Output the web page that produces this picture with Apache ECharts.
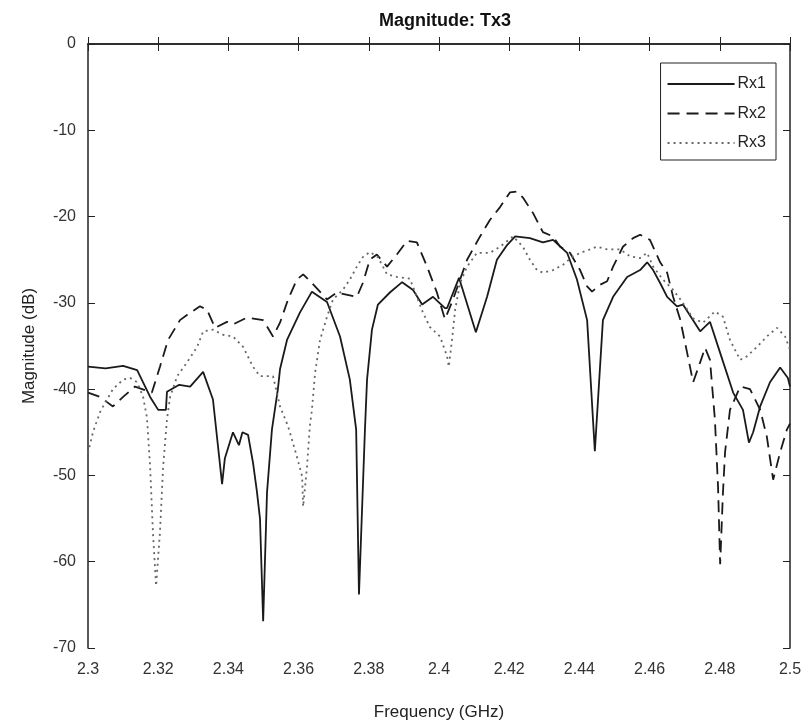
<!DOCTYPE html>
<html>
<head>
<meta charset="utf-8">
<script src="https://cdn.jsdelivr.net/npm/echarts@6/dist/echarts.min.js"></script>
<style>
  html, body { margin: 0; padding: 0; background: #fff; }
  #chart { width: 811px; height: 727px; }
</style>
</head>
<body>
<div id="chart"></div>
<script>
// frequency (GHz) and magnitude (dB)
var rx1Freq = [2.300, 2.305, 2.310, 2.314, 2.3177, 2.320, 2.3222, 2.3225, 2.326, 2.3291, 2.3328, 2.3356, 2.3382, 2.3390, 2.3413, 2.3430, 2.3440, 2.3456, 2.3470, 2.3481, 2.3490, 2.3499, 2.3510, 2.3524, 2.3541, 2.3547, 2.3567, 2.3604, 2.3638, 2.3681, 2.3718, 2.3746, 2.3764, 2.3772, 2.3789, 2.3795, 2.3809, 2.3826, 2.3860, 2.3895, 2.3926, 2.3952, 2.3983, 2.4017, 2.4023, 2.4057, 2.4105, 2.4137, 2.4165, 2.4194, 2.4217, 2.4259, 2.4296, 2.4325, 2.4365, 2.4393, 2.4422, 2.4444, 2.4467, 2.4496, 2.4536, 2.4573, 2.4593, 2.4610, 2.4630, 2.4650, 2.4678, 2.4695, 2.4744, 2.4772, 2.4801, 2.4838, 2.4866, 2.4883, 2.4895, 2.4915, 2.4943, 2.4972, 2.4994, 2.5000];
var rx1Mag = [-37.4, -37.6, -37.3, -37.8, -40.9, -42.4, -42.4, -40.3, -39.5, -39.7, -38.0, -41.2, -51.0, -48.0, -45.0, -46.5, -45.0, -45.3, -48.5, -51.8, -55.0, -66.9, -52.0, -44.7, -40.0, -37.7, -34.3, -31.1, -28.7, -29.9, -33.9, -38.9, -44.7, -63.8, -44.7, -38.9, -33.1, -30.2, -28.8, -27.6, -28.5, -30.2, -29.3, -30.6, -30.6, -27.1, -33.4, -29.3, -25.0, -23.3, -22.3, -22.5, -23.0, -22.7, -24.2, -27.3, -32.0, -47.2, -32.0, -29.3, -27.0, -26.2, -25.3, -26.2, -27.7, -29.3, -30.4, -30.2, -33.3, -32.2, -35.8, -40.4, -42.4, -46.2, -45.0, -42.0, -39.2, -37.5, -38.7, -39.7];

var rx2Freq = [2.300, 2.3034, 2.3071, 2.3100, 2.3134, 2.3182, 2.3205, 2.3228, 2.3262, 2.3282, 2.3319, 2.3339, 2.3362, 2.3396, 2.3413, 2.3453, 2.3499, 2.3527, 2.3547, 2.3570, 2.3595, 2.3613, 2.3638, 2.3681, 2.3709, 2.3766, 2.3783, 2.3803, 2.3823, 2.3852, 2.3880, 2.3909, 2.3937, 2.3966, 2.3994, 2.4017, 2.4040, 2.4060, 2.4080, 2.4117, 2.4145, 2.4174, 2.4202, 2.4222, 2.4239, 2.4268, 2.4296, 2.4325, 2.4345, 2.4373, 2.4402, 2.4422, 2.4436, 2.4459, 2.4479, 2.4496, 2.4524, 2.4553, 2.4573, 2.4601, 2.4630, 2.4650, 2.4667, 2.4687, 2.4707, 2.4724, 2.4744, 2.4758, 2.4772, 2.4786, 2.4795, 2.4801, 2.4809, 2.4815, 2.4829, 2.4858, 2.4886, 2.4915, 2.4934, 2.4952, 2.4972, 2.4991, 2.5000];
var rx2Mag = [-40.4, -40.9, -42.0, -40.9, -39.7, -40.4, -37.4, -34.3, -32.0, -31.4, -30.4, -30.8, -32.9, -32.2, -32.5, -31.7, -32.0, -33.9, -32.3, -29.6, -27.3, -26.7, -27.7, -29.6, -28.8, -29.3, -27.7, -25.0, -24.4, -25.8, -24.4, -22.8, -23.0, -25.8, -28.8, -31.9, -29.6, -27.3, -25.0, -22.3, -20.4, -18.9, -17.2, -17.1, -17.8, -19.6, -21.8, -22.3, -23.5, -24.2, -26.2, -28.1, -28.7, -27.9, -27.5, -25.8, -23.5, -22.5, -22.1, -22.7, -25.3, -26.5, -29.3, -31.9, -35.8, -39.2, -36.9, -35.2, -36.6, -43.5, -51.3, -60.3, -52.0, -47.3, -42.4, -39.7, -40.0, -42.4, -45.5, -50.5, -47.3, -44.7, -44.0];

var rx3Freq = [2.300, 2.3014, 2.3034, 2.3043, 2.3071, 2.3100, 2.3120, 2.3140, 2.3157, 2.3168, 2.3177, 2.3185, 2.3194, 2.3205, 2.3214, 2.3225, 2.3234, 2.3254, 2.3282, 2.3311, 2.3328, 2.3356, 2.3385, 2.3413, 2.3442, 2.3470, 2.3490, 2.3527, 2.3541, 2.3547, 2.3570, 2.3595, 2.3610, 2.3613, 2.3624, 2.3632, 2.3638, 2.3647, 2.3661, 2.3681, 2.3698, 2.3726, 2.3746, 2.3766, 2.3783, 2.3803, 2.3826, 2.3852, 2.3880, 2.3917, 2.3937, 2.3954, 2.3974, 2.4003, 2.4023, 2.4028, 2.4037, 2.4046, 2.4060, 2.4080, 2.4108, 2.4145, 2.4174, 2.4211, 2.4239, 2.4259, 2.4279, 2.4296, 2.4325, 2.4353, 2.4382, 2.4410, 2.4450, 2.4479, 2.4516, 2.4544, 2.4573, 2.4593, 2.4610, 2.4638, 2.4667, 2.4695, 2.4724, 2.4752, 2.4786, 2.4809, 2.4829, 2.4858, 2.4877, 2.4906, 2.4934, 2.4963, 2.4986, 2.5000];
var rx3Mag = [-47.4, -45.0, -42.7, -42.0, -40.0, -38.9, -38.7, -39.2, -40.9, -43.3, -49.0, -56.6, -62.8, -56.6, -49.0, -43.5, -40.9, -38.5, -36.9, -35.1, -33.3, -33.1, -33.7, -33.9, -35.1, -37.4, -38.5, -38.5, -40.9, -42.0, -44.3, -47.8, -50.1, -53.6, -49.0, -44.3, -42.4, -38.1, -34.3, -31.6, -29.6, -28.5, -27.3, -25.8, -24.7, -24.1, -24.7, -26.7, -27.0, -27.2, -29.3, -31.1, -32.8, -33.9, -36.2, -37.4, -34.3, -30.8, -27.7, -25.8, -24.2, -24.2, -23.5, -22.3, -23.5, -25.0, -26.2, -26.5, -26.2, -25.6, -24.6, -24.1, -23.5, -23.8, -23.8, -24.6, -24.8, -24.2, -25.8, -27.3, -28.5, -30.0, -31.8, -32.3, -31.0, -31.6, -34.3, -36.6, -36.2, -35.1, -33.9, -32.9, -33.9, -35.4];

var seriesNames = ["Rx1", "Rx2", "Rx3"];

function pairs(xs, ys) {
  var out = [];
  for (var i = 0; i < xs.length; i++) {
    out.push([xs[i], ys[i]]);
  }
  return out;
}

var font = "Liberation Sans";
var chart = echarts.init(document.getElementById("chart"));

var option = {
  animation: false,
  backgroundColor: "#fff",
  textStyle: { fontFamily: font },
  title: {
    text: "Magnitude: Tx3",
    left: 440,
    textAlign: "center",
    top: 7,
    textStyle: { fontFamily: font, fontSize: 18, fontWeight: "bold", color: "#111" }
  },
  legend: {
    data: seriesNames,
    orient: "vertical",
    right: 35,
    top: 63,
    itemWidth: 67,
    itemHeight: 14,
    itemGap: 13.5,
    padding: [13, 10, 9, 6],
    backgroundColor: "#fff",
    borderColor: "#222",
    borderWidth: 1,
    borderRadius: 0,
    itemStyle: { opacity: 0 },
    textStyle: { fontFamily: font, fontSize: 16, color: "#222", padding: [0, 0, 0, -2] }
  },
  grid: { left: 88, right: 21, top: 44, bottom: 79 },
  xAxis: [{
    type: "value",
    min: 2.3,
    max: 2.5,
    interval: 0.02,
    name: "Frequency (GHz)",
    nameLocation: "middle",
    nameGap: 56,
    nameTextStyle: { fontFamily: font, fontSize: 17, color: "#222" },
    axisLine: { lineStyle: { color: "#222", width: 1.5 } },
    axisTick: { inside: true, length: 7, lineStyle: { color: "#222" } },
    axisLabel: {
      fontFamily: font, fontSize: 16, color: "#333", margin: 14,
      formatter: function (v) { return String(parseFloat(v.toFixed(2))); }
    },
    splitLine: { show: false }
  }, {
    type: "value",
    position: "top",
    min: 2.3,
    max: 2.5,
    interval: 0.02,
    axisLine: { lineStyle: { color: "#222", width: 1.5 } },
    axisTick: { inside: true, length: 7, lineStyle: { color: "#222" } },
    axisLabel: { show: false },
    splitLine: { show: false }
  }],
  yAxis: [{
    type: "value",
    min: -70,
    max: 0,
    interval: 10,
    name: "Magnitude (dB)",
    nameLocation: "middle",
    nameGap: 50,
    nameTextStyle: { fontFamily: font, fontSize: 17, color: "#222" },
    axisLine: { show: true, lineStyle: { color: "#222", width: 1.5 } },
    axisTick: { show: true, inside: true, length: 7, lineStyle: { color: "#222" } },
    axisLabel: { fontFamily: font, fontSize: 16, color: "#333", margin: 12 },
    splitLine: { show: false }
  }, {
    type: "value",
    position: "right",
    min: -70,
    max: 0,
    interval: 10,
    axisLine: { show: true, lineStyle: { color: "#222", width: 1.5 } },
    axisTick: { show: true, inside: true, length: 7, lineStyle: { color: "#222" } },
    axisLabel: { show: false },
    splitLine: { show: false }
  }],
  series: [{
    name: seriesNames[0],
    type: "line",
    data: pairs(rx1Freq, rx1Mag),
    symbol: "none",
    color: "#1a1a1a",
    lineStyle: { color: "#1a1a1a", width: 1.8, type: "solid" }
  }, {
    name: seriesNames[1],
    type: "line",
    data: pairs(rx2Freq, rx2Mag),
    symbol: "none",
    color: "#1a1a1a",
    lineStyle: { color: "#1a1a1a", width: 1.8, type: [12, 7] }
  }, {
    name: seriesNames[2],
    type: "line",
    data: pairs(rx3Freq, rx3Mag),
    symbol: "none",
    color: "#666",
    lineStyle: { color: "#666", width: 1.8, type: [2, 4] }
  }]
};

chart.setOption(option);
</script>
</body>
</html>
